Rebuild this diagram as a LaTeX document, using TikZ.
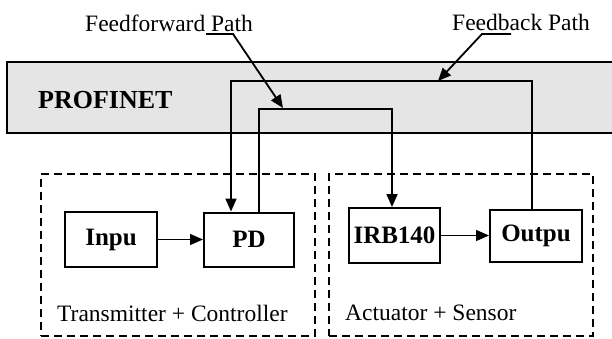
\documentclass[tikz,border=0pt]{standalone}
\usepackage{fontspec}
\setmainfont{Liberation Serif}
\usetikzlibrary{positioning,arrows.meta}
\tikzset{
  block/.style={rectangle, draw=black, line width=2pt, inner sep=0pt, font=\fontsize{25}{28}\selectfont\bfseries},
  group/.style={rectangle, draw=black, line width=2pt, dash pattern=on 8pt off 5pt, inner sep=0pt},
  bus/.style={rectangle, draw=black, line width=2pt, fill=black!10, inner sep=0pt},
  connect/.style={-{Triangle[length=13pt,width=11pt]}, line width=1.8pt},
  flow/.style={-{Triangle[length=13pt,width=11pt]}, line width=1.2pt},
  tag/.style={font=\fontsize{23.5}{26}\selectfont, inner sep=0pt}
}

\begin{document}
\begin{tikzpicture}[x=1pt,y=-1pt]
  \useasboundingbox (0,0) rectangle (612,338);
  % network bus
  \node[bus, minimum width=620pt, minimum height=71pt, anchor=north west] (net) at (6,61) {};
  \node[anchor=west, inner sep=0pt, font=\fontsize{26}{30}\selectfont\bfseries] (netlbl) at (38,100) {PROFINET};

  % the two stations
  \node[group, minimum width=274pt, minimum height=162pt, anchor=north west] (tx) at (40,173) {};
  \node[group, minimum width=264pt, minimum height=162pt, anchor=north west] (rx) at (328,173) {};
  \node[tag, anchor=west] (txlbl) at (57,313) {Transmitter + Controller};
  \node[tag, anchor=west] (rxlbl) at (345,313) {Actuator + Sensor};

  \node[block, minimum width=92pt, minimum height=55pt] (In) at (111,239.5) {Inpu};
  \node[block, minimum width=90pt, minimum height=54pt, right=45pt of In] (PD) {PD};
  \node[block, minimum width=91pt, minimum height=55pt] (IRB) at (394.5,235.5) {IRB140};
  \node[block, minimum width=92pt, minimum height=52pt, right=48pt of IRB] (Out) {Outpu};

  \draw[flow] (In) -- (PD);
  \draw[flow] (IRB) -- (Out);

  % loops over the bus
  \coordinate (fbL) at (231,81);
  \coordinate (fbR) at (532,81);
  \coordinate (ffL) at (259,109);
  \coordinate (ffR) at (392,109);
  \draw[connect] (fbR |- Out.north) -- (fbR) -- (fbL) -- (fbL |- PD.north);
  \draw[connect] (ffL |- PD.north) -- (ffL) -- (ffR) -- (ffR |- IRB.north);

  % path labels
  \node[tag, anchor=base west] (fflbl) at (85,31) {Feedforward Path};
  \node[tag, anchor=base west] (fblbl) at (452,30) {Feedback Path};
  \coordinate (ffA) at (206,34);
  \coordinate (ffB) at (233,34);
  \coordinate (ffTip) at (283,108);
  \coordinate (fbA) at (511,34);
  \coordinate (fbB) at (482,34);
  \coordinate (fbTip) at (438,81);
  \draw[connect] (ffA) -- (ffB) -- (ffTip);
  \draw[connect] (fbA) -- (fbB) -- (fbTip);
\end{tikzpicture}
\end{document}
